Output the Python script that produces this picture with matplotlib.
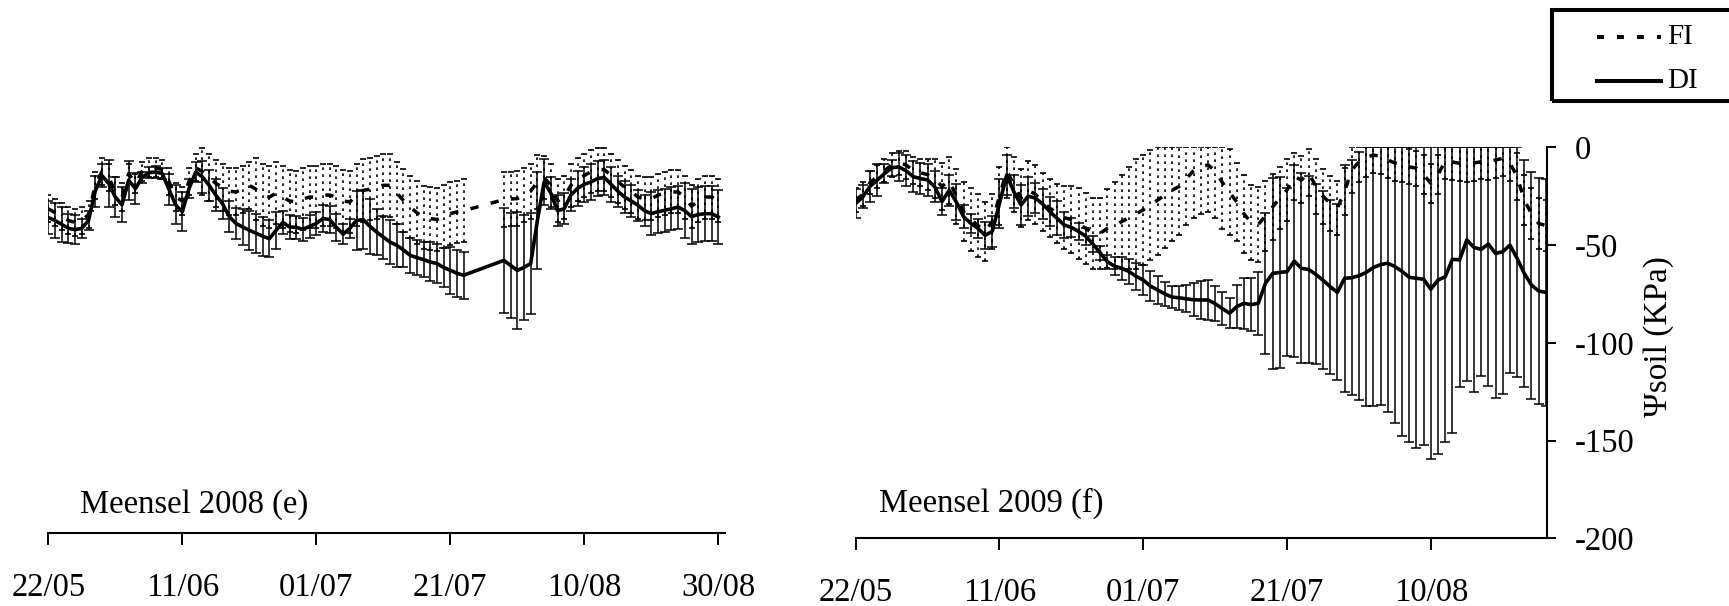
import numpy as np
import matplotlib
matplotlib.use("Agg")
import matplotlib.pyplot as plt
from matplotlib.lines import Line2D
from matplotlib.patches import Rectangle

plt.rcParams['font.family'] = ['Liberation Serif', 'DejaVu Serif']
plt.rcParams['axes.unicode_minus'] = False

# ---------------- data (days after 22/05) ----------------
tick_days = [0, 20, 40, 60, 80, 100]
tick_labels = ['22/05', '11/06', '01/07', '21/07', '10/08', '30/08']
y_ticks = [0, -50, -100, -150, -200]

# Meensel 2008: no readings on days 63-67
days_2008 = list(range(0, 63)) + list(range(68, 101))

di_2008 = [-38.5, -40, -42, -44, -44.7, -44, -40, -25, -17, -21,
           -28, -32, -19.4, -23.7, -18, -15.5, -15.2, -16, -24, -32,
           -35.6, -23.7, -15.2, -17.7, -22, -27, -31.4, -38, -41.5, -43.3,
           -45, -46.5, -48, -49.3, -45, -41, -43.3, -43.5, -44.5, -43,
           -41.5, -39, -39.5, -43.5, -47, -44, -40, -39.5, -43, -45.9,
           -48.5, -51, -52.7, -55, -57.8, -59, -60, -61.2, -62, -64,
           -65.5, -67, -68,
           -60.4, -63, -65.5, -64, -62, -40, -20.3, -26, -35, -34,
           -27, -23.5, -21.5, -20.3, -18.5, -18, -21.5, -25, -28, -30,
           -32.2, -35, -36.5, -35.5, -34.8, -34, -33.1, -35, -38, -37,
           -36.5, -36.5, -38.2]
di_err_2008 = [8.5, 9, 9, 7.5, 7.5, 5, 5, 8, 6, 12,
               10, 9, 10, 8, 3, 3, 3, 3, 8, 10,
               10, 5, 5, 8, 8, 8, 8, 8, 8, 9,
               10, 10, 10, 9.5, 9.5, 6, 6, 6, 6, 6,
               6, 7, 7, 7, 5, 5, 15, 15, 14, 12,
               11, 11, 11, 9, 9, 9, 9, 10, 10, 10,
               12, 12, 12,
               27, 27, 30, 27, 26, 25, 12, 8, 8, 8,
               8, 9, 9, 9, 9, 9, 9, 8, 8, 8,
               8, 8, 11, 11, 11, 11, 11, 14, 14, 14,
               14, 14, 14]
fi_2008 = [-34, -36, -38, -40, -41, -40, -37, -22, -15, -18,
           -25, -28, -16, -21, -15, -13, -13, -14, -20, -28,
           -30, -20, -13, -15, -18, -21, -23, -25, -25.4, -24,
           -22, -24, -27, -28, -26, -28, -30, -30.5, -29, -28,
           -28, -27, -27, -28, -30, -30.5, -27, -24.6, -24, -23,
           -22, -22, -26, -29.7, -33, -36, -38.4, -39, -39.5, -38,
           -36.5, -35.6, -35,
           -29.3, -29, -28.8, -27, -25, -20.3, -18, -22, -30, -28,
           -22, -19, -17, -15, -14, -14, -17, -20, -23, -25,
           -28, -29, -29, -27, -26, -25.4, -25.4, -28, -32.7, -30,
           -28, -28, -30]
fi_err_2008 = [7, 7, 7, 7, 7, 7, 7, 7, 7, 7,
               7, 7, 5, 5, 5, 5, 5, 5, 7, 7,
               7, 7, 7, 12, 12, 12, 12, 12, 12, 12,
               12, 16, 16, 16, 16, 16, 16, 16, 16, 16,
               16, 16, 16, 16, 16, 16, 16, 16, 16, 16,
               16, 16, 16, 16, 16, 16, 16, 16, 16, 16,
               16, 16, 16,
               14, 14, 14, 14, 14, 14, 11, 11, 11, 11,
               11, 11, 11, 11, 11, 11, 11, 11, 11, 11,
               11, 11, 11, 11, 11, 11, 11, 11, 11, 11,
               11, 11, 11]

# Meensel 2009: daily readings 22/05 - 26/08
days_2009 = list(range(0, 97))

di_2009 = [-28.7, -25.3, -20, -16.7, -13.5, -10.5, -10, -12, -15, -16,
           -16.7, -20.2, -27.8, -22, -28, -35.5, -38.9, -41.5, -45, -43,
           -28.7, -14.2, -22.7, -29.5, -25, -26, -29, -32.9, -36.3, -39.7,
           -41, -43, -45.5, -49.5, -54, -58.5, -60.8, -61.9, -63.5, -66,
           -67.9, -71, -73, -75, -76.6, -77, -77.5, -78, -78.1, -78.1,
           -80, -82.5, -84.9, -81.5, -79.8, -80.5, -79.8, -69.5, -64.5, -64,
           -63.6, -58.2, -61.9, -62.5, -65, -68, -71.3, -74.2, -67, -66.7,
           -65.7, -64, -61.5, -60, -59.3, -61, -63.5, -66.5, -67, -67.5,
           -72.6, -67.9, -66.2, -57.3, -57.6, -47.4, -51.2, -52.2, -49.5, -54.3,
           -53.4, -50, -56.8, -64.5, -70.5, -73.5, -74.2]
di_err_2009 = [7.6, 6, 8, 8, 5, 4, 7, 8, 8, 8,
               8, 8, 7, 8, 9, 6, 5, 5, 7, 8,
               12.7, 10.3, 8.5, 10, 10, 7.6, 7.6, 7.6, 8.6, 6.6,
               5, 4.5, 4.3, 4, 3.5, 3.5, 4.5, 6, 6.6, 7,
               7.5, 7.5, 7, 6, 5.5, 6, 7, 8.5, 9.5, 10,
               9, 8.5, 7.7, 11, 13, 13.5, 16, 36, 49, 49,
               43, 49, 48.5, 48, 46, 45.5, 44.5, 45, 58, 60,
               63.5, 68.5, 71, 72, 76, 80, 84, 84, 87, 85,
               87, 89, 84.6, 88.6, 64.8, 72, 74, 65, 72.4, 74,
               73, 65.7, 60.5, 58, 58, 58, 58]
fi_2009 = [-27, -24, -18, -15, -12, -9, -8, -9, -12, -13,
           -14, -16, -20, -17, -25, -33, -37, -40, -43, -38,
           -25, -12, -19, -26, -22, -24, -28, -31, -34, -36,
           -37, -39, -41.5, -44, -44, -41.5, -40, -38, -36, -34,
           -32, -29.5, -27, -24.5, -22, -20, -16, -12, -10, -9,
           -12, -18, -23, -28, -34, -38.5, -39.5, -35, -30.5, -26,
           -21.8, -15, -16.7, -13, -20, -25, -28.7, -31, -22.7, -11.6,
           -7.5, -5, -4, -4.5, -6.5, -8, -9, -10, -10.7, -14,
           -18.4, -14, -7, -7.5, -8.2, -8.5, -8, -7.4, -7.5, -6.5,
           -5.6, -8, -15, -27, -34, -39, -40]
fi_err_2009 = [6, 6, 6, 6, 6, 6, 6, 7, 7, 7,
               8, 10, 12, 12, 14, 15, 16, 16, 15, 14,
               15, 14, 14, 15, 15, 15, 15, 15, 15, 16,
               17, 18, 18, 18, 18, 20, 22, 24, 26, 28,
               28, 28, 28, 27, 26, 25, 24, 24, 24, 24,
               24, 24, 22, 20, 20, 19, 19, 18, 17, 16,
               16, 12, 12, 12, 14, 14, 14, 14, 12, 12,
               10, 10, 9, 9, 9, 9, 9, 9, 9, 10,
               10, 10, 9, 9, 9, 9, 9, 9, 9, 9,
               9, 9, 12, 13, 13, 13, 13]

# ---------------- figure ----------------
W, H = 1729, 606
fig = plt.figure(figsize=(W / 100, H / 100), dpi=100)
ax1 = fig.add_axes([48.3 / W, 1 - 533.3 / H, 676.7 / W, 391 / H])
ax2 = fig.add_axes([855.7 / W, 1 - 538.3 / H, 691.6 / W, 391 / H])

FS = 23.5
DASH = (0, (2.4, 3.6))


def draw_panel(ax, days_di, di, di_err, days_fi, fi, fi_err):
    di = np.asarray(di, float)
    di_err = np.asarray(di_err, float)
    fi = np.asarray(fi, float)
    fi_err = np.asarray(fi_err, float)
    ymax = 0.0
    # FI: dotted error bars, dashed mean line
    fi_up = np.minimum(fi + fi_err, ymax) - fi
    eb = ax.errorbar(days_fi, fi, yerr=[fi_err, fi_up], fmt='none',
                     ecolor='k', elinewidth=1.2, capsize=2.5, capthick=1.2)
    eb[2][0].set_linestyle((0, (1.6, 2.6)))
    ax.plot(days_fi, fi, color='k', lw=2.5, linestyle=DASH)
    # DI: solid error bars and mean line
    di_up = np.minimum(di + di_err, ymax) - di
    ax.errorbar(days_di, di, yerr=[di_err, di_up], fmt='none',
                ecolor='k', elinewidth=1.1, capsize=3.5, capthick=1.1)
    ax.plot(days_di, di, color='k', lw=2.6, solid_joinstyle='round')
    ax.set_ylim(-200, 0)
    for s in ('top', 'left', 'right'):
        ax.spines[s].set_visible(False)
    ax.spines['bottom'].set_linewidth(1.5)
    ax.tick_params(axis='x', direction='out', length=8.5, width=1.4,
                   labelsize=FS, pad=20)


draw_panel(ax1, days_2008, di_2008, di_err_2008, days_2008, fi_2008, fi_err_2008)
draw_panel(ax2, days_2009, di_2009, di_err_2009, days_2009, fi_2009, fi_err_2009)

ax1.set_xlim(0, 101)
ax1.set_xticks(tick_days)
ax1.set_xticklabels(tick_labels)
ax1.set_yticks([])

ax2.set_xlim(0, 96.2)
ax2.set_xticks(tick_days[:5])
ax2.set_xticklabels(tick_labels[:5])
ax2.spines['right'].set_visible(True)
ax2.spines['right'].set_linewidth(1.5)
ax2.yaxis.tick_right()
ax2.set_yticks(y_ticks)
ax2.set_yticklabels([str(v) for v in y_ticks])
ax2.tick_params(axis='y', direction='out', length=6.5, width=1.4,
                labelsize=FS, pad=13)

fig.text(80 / W, 1 - 513 / H, 'Meensel 2008 (e)', fontsize=FS,
         ha='left', va='baseline')
fig.text(879 / W, 1 - 512 / H, 'Meensel 2009 (f)', fontsize=FS,
         ha='left', va='baseline')
fig.text(1659 / W, 1 - 336.5 / H, 'Ψsoil (KPa)', fontsize=24,
         rotation=90, ha='center', va='center')

# legend box (runs off the right edge)
fig.add_artist(Rectangle((1552 / W, 1 - 100.7 / H), 250 / W, 90.7 / H,
                         transform=fig.transFigure, fill=False,
                         edgecolor='k', lw=2.9))
fig.add_artist(Line2D([1597 / W, 1661 / W], [1 - 37 / H] * 2,
                      transform=fig.transFigure, color='k', lw=2.9,
                      linestyle=(0, (1.72, 3.24))))
fig.add_artist(Line2D([1597 / W, 1661 / W], [1 - 81 / H] * 2,
                      transform=fig.transFigure, color='k', lw=2.9))
fig.text(1667 / W, 1 - 37 / H, 'FI', fontsize=21, ha='left', va='center')
fig.text(1667 / W, 1 - 81 / H, 'DI', fontsize=21, ha='left', va='center')

fig.savefig('out.png', dpi=100)
